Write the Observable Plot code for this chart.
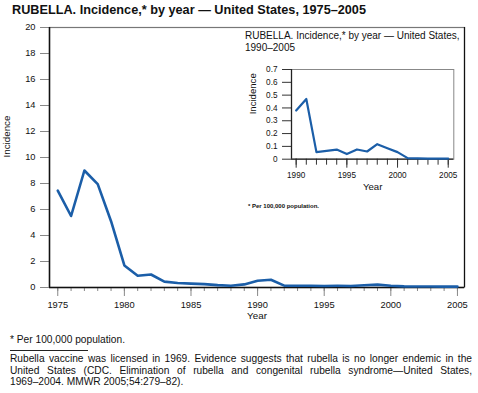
<!DOCTYPE html>
<html>
<head>
<meta charset="utf-8">
<script src="https://cdn.jsdelivr.net/npm/d3@7"></script>
<script src="https://cdn.jsdelivr.net/npm/@observablehq/plot@0.6"></script>
<style>
  body { margin: 0; background: #fff; }
  #wrap { position: relative; width: 478px; height: 393px; background: #fff; font-family: "Liberation Sans", Arial, sans-serif; color: #111; overflow: hidden; }
  #wrap svg { position: absolute; overflow: visible; }
  .title { position: absolute; left: 12px; top: 3px; font-size: 12.7px; font-weight: bold; white-space: nowrap; }
  .insetTitle { position: absolute; left: 245px; top: 30px; font-size: 10px; line-height: 12.2px; white-space: nowrap; }
  .insetNote { position: absolute; left: 248px; top: 203px; font-size: 6px; font-weight: bold; white-space: nowrap; }
  .note { position: absolute; left: 10px; top: 334px; font-size: 10.2px; white-space: nowrap; }
  .rule { position: absolute; left: 10px; top: 350px; width: 78px; height: 0; border-top: 1px solid #222; }
  .para { position: absolute; left: 10px; top: 353px; width: 462px; font-size: 10.2px; line-height: 11.6px; text-align: justify; }
  .nw { white-space: nowrap; }
</style>
</head>
<body>
<div id="wrap">
  <div class="title">RUBELLA. Incidence,* by year — United States, 1975–2005</div>
</div>
<script>
// Data
const years = d3.range(1975, 2006);
const incidence = [7.45, 5.5, 9.0, 7.95, 5.1, 1.7, 0.9, 1.0, 0.45, 0.35,
                   0.3, 0.26, 0.18, 0.14, 0.24, 0.52, 0.6, 0.14, 0.13, 0.13,
                   0.12, 0.13, 0.12, 0.17, 0.22, 0.14, 0.09, 0.08, 0.08, 0.07, 0.07];
const insetYears = d3.range(1990, 2006);
const insetIncidence = [0.38, 0.47, 0.055, 0.065, 0.075, 0.04, 0.076, 0.06,
                        0.117, 0.085, 0.055, 0.008, 0.006, 0.004, 0.004, 0.004];
const yTicks = [0, 2, 4, 6, 8, 10, 12, 14, 16, 18, 20];
const xMajor = [1975, 1980, 1985, 1990, 1995, 2000, 2005];
const insetYTicks = [0, 0.1, 0.2, 0.3, 0.4, 0.5, 0.6, 0.7];
const insetXMajor = [1990, 1995, 2000, 2005];

const mainData = years.map((y, i) => ({year: y, value: incidence[i]}));
const insetData = insetYears.map((y, i) => ({year: y, value: insetIncidence[i]}));

const blue = "#1b5ea8";
const font = "Liberation Sans, Arial, sans-serif";

const main = Plot.plot({
  width: 478,
  height: 330,
  marginLeft: 49,
  marginRight: 14,
  marginTop: 27,
  marginBottom: 43,
  style: {fontFamily: font, background: "transparent", color: "#111"},
  x: {domain: [1974.38, 2005.53]},
  y: {domain: [0, 20]},
  marks: [
    Plot.frame({stroke: "#777", strokeWidth: 1.2}),
    Plot.axisX({ticks: years, tickSize: 4, stroke: "#888", label: null, text: null}),
    Plot.axisX({ticks: xMajor, tickSize: 9, tickPadding: 5, tickFormat: d => String(d), stroke: "#888", fontSize: 9.3, fill: "#111", label: null}),
    Plot.axisY({ticks: yTicks, tickSize: 9, tickPadding: 5, stroke: "#888", fontSize: 9.3, fill: "#111", label: null}),
    Plot.ruleX([1974.38], {stroke: "#111", strokeWidth: 1.5}),
    Plot.ruleX([2005.53], {stroke: "#111", strokeWidth: 1.2}),
    Plot.ruleY([0], {stroke: "#111", strokeWidth: 1.5}),
    Plot.line(mainData, {x: "year", y: "value", stroke: blue, strokeWidth: 2.6, strokeLinejoin: "round"}),
    Plot.text(["Year"], {text: d => d, frameAnchor: "bottom", dy: 31, fontSize: 9.8, fill: "#111"}),
    Plot.text(["Incidence"], {text: d => d, frameAnchor: "left", dx: -43, rotate: -90, fontSize: 9.8, fill: "#111"})
  ]
});
main.style.left = "0px";
main.style.top = "0px";

const inset = Plot.plot({
  width: 225,
  height: 145,
  marginLeft: 51,
  marginRight: 11.7,
  marginTop: 14,
  marginBottom: 41.3,
  style: {fontFamily: font, background: "transparent", color: "#111"},
  x: {domain: [1989.54, 2005.55]},
  y: {domain: [0, 0.7]},
  marks: [
    Plot.frame({stroke: "#888", strokeWidth: 1}),
    Plot.axisX({ticks: insetYears, tickSize: 6, stroke: "#333", label: null, text: null}),
    Plot.axisX({ticks: insetXMajor, tickSize: 9, tickPadding: 4, tickFormat: d => String(d), stroke: "#333", fontSize: 8.2, fill: "#111", label: null}),
    Plot.axisY({ticks: insetYTicks, tickSize: 9, tickPadding: 5, tickFormat: d => d === 0 ? "0" : d3.format(".1f")(d), stroke: "#333", fontSize: 8.2, fill: "#111", label: null}),
    Plot.ruleX([1989.54], {stroke: "#222", strokeWidth: 1.3}),
    Plot.ruleY([0], {stroke: "#222", strokeWidth: 1.3}),
    Plot.line(insetData, {x: "year", y: "value", stroke: blue, strokeWidth: 2.2, strokeLinejoin: "round"}),
    Plot.text(["Year"], {text: d => d, frameAnchor: "bottom", dy: 30.5, fontSize: 9.6, fill: "#111"}),
    Plot.text(["Incidence"], {text: d => d, frameAnchor: "left", dx: -39, rotate: -90, fontSize: 9.6, fill: "#111"})
  ]
});
inset.style.left = "240px";
inset.style.top = "55px";

const wrap = document.getElementById("wrap");
wrap.appendChild(main);
wrap.appendChild(inset);

const addDiv = (cls, html) => {
  const d = document.createElement("div");
  d.className = cls;
  d.innerHTML = html;
  wrap.appendChild(d);
};
addDiv("insetTitle", "RUBELLA. Incidence,* by year — United States,<br>1990–2005");
addDiv("insetNote", "* Per 100,000 population.");
addDiv("note", "* Per 100,000 population.");
addDiv("rule", "");
addDiv("para", "Rubella vaccine was licensed in 1969. Evidence suggests that rubella is no longer endemic in the United States (CDC. Elimination of rubella and congenital rubella syndrome—United States, <span class=\"nw\">1969–2004.</span> MMWR 2005;54:279–82).");
</script>
</body>
</html>
